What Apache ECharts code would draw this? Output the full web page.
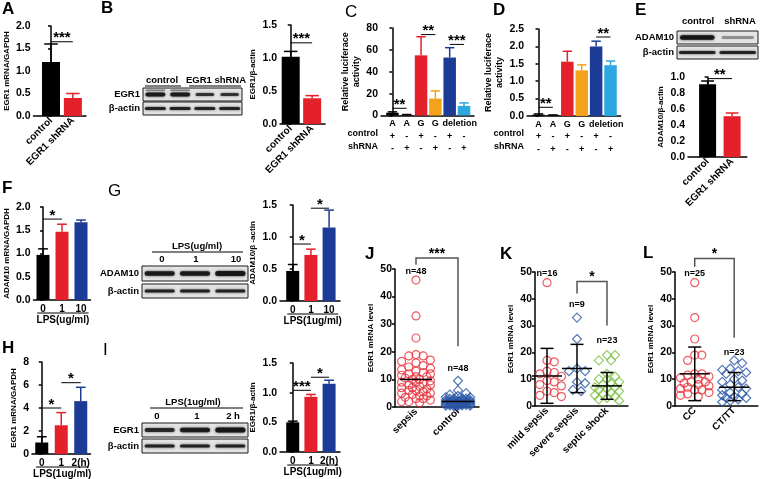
<!DOCTYPE html>
<html><head><meta charset="utf-8">
<script src="https://cdn.jsdelivr.net/npm/echarts@6/dist/echarts.min.js"></script>
<style>html,body{margin:0;padding:0;background:#fff}#c{width:760px;height:479px}</style>
</head><body><div id="c"></div>
<script>
// ---------------- DATA ----------------
const aCats = ['control', 'EGR1 shRNA'];
const aMean = [1.2, 0.4];
const aErr = [1.6, 0.5];
const aSig = [[0, 1, 1.65, '***']];

const bCats = ['control', 'EGR1 shRNA'];
const bMean = [1.02, 0.39];
const bErr = [1.1, 0.43];
const bSig = [[0, 1, 1.23, '***']];

const cdCats = ['A', 'A', 'G', 'G', '', ''];
const cdSpanLabel = 'deletion';
const cdSpanPos = 4.7;
const cdControl = ['+', '-', '+', '-', '+', '-'];
const cdShRNA = ['-', '+', '-', '+', '-', '+'];
const cMean = [2.5, 0.5, 55, 15.5, 53, 8.8];
const cErr = [3.3, 0.9, 72, 22.5, 62, 11.5];
const cSig = [[0, 1, 6.6, '**'], [2, 3, 74, '**'], [4, 5, 65, '***']];
const dMean = [0.04, 0.02, 1.56, 1.31, 2.0, 1.46];
const dErr = [0.06, 0.03, 1.86, 1.47, 2.15, 1.58];
const dSig = [[0, 1, 0.25, '**'], [4, 5, 2.27, '**']];

const eCats = ['control', 'EGR1 shRNA'];
const eMean = [0.91, 0.51];
const eErr = [0.95, 0.55];
const eSig = [[0, 1, 0.98, '**']];

const fCats = ['0', '1', '10'];
const fMean = [0.97, 1.47, 1.67];
const fErr = [1.1, 1.63, 1.72];
const fSig = [[0, 1, 1.74, '*']];

const gCats = ['0', '1', '10'];
const gMean = [0.47, 0.72, 1.15];
const gErr = [0.57, 0.81, 1.42];
const gSig = [[0, 1, 0.89, '*'], [1, 2, 1.45, '*']];

const hCats = ['0', '1', '2(h)'];
const hMean = [1.0, 2.5, 4.6];
const hErr = [1.5, 3.6, 5.8];
const hSig = [[0, 1, 4.0, '*'], [1, 2, 6.2, '*']];

const iCats = ['0', '1', '2(h)'];
const iMean = [0.5, 0.93, 1.15];
const iErr = [0.52, 0.97, 1.21];
const iSig = [[0, 1, 1.04, '***'], [1, 2, 1.26, '*']];

const jCats = ['sepsis', 'control'];
const jSepsis = [46, 33, 25, 19, 18.5, 18.5, 17, 16.5, 16, 15, 14.5, 14, 13.5, 13, 12.5, 12, 12, 11.5, 11, 11, 10.5, 10, 10, 9.5, 9, 9, 8.5, 8, 8, 7.5, 7, 7, 6.5, 6, 6, 5.5, 5, 5, 4.5, 4, 4, 3.5, 3, 3, 2.5, 2, 2, 1.5];
const jControl = [9.5, 6, 5, 4.5, 4, 3.5, 3.5, 3, 3, 3, 3, 2.5, 2.5, 2.5, 2.5, 2.5, 2, 2, 2, 2, 2, 2, 2, 1.5, 1.5, 1.5, 1.5, 1.5, 1.5, 1.5, 1.2, 1.2, 1.2, 1.2, 1, 1, 1, 1, 1, 0.8, 0.8, 0.8, 0.6, 0.6, 0.5, 0.5, 0.4, 0.3];
const jMeanVals = [10, 2];
const jN = ['n=48', 'n=48'];
const jNY = [49, 14];
const jBracket = [1, 2, 51.5, 54, 22, '***'];

const kCats = ['mild sepsis', 'severe sepsis', 'septic shock'];
const kMild = [46, 17, 16.5, 13, 12.5, 12, 11, 9.5, 9, 8, 7.5, 7, 5.5, 5, 4, 3.5];
const kSevere = [33, 25, 14, 13, 13, 9, 8.5, 6, 5.5];
const kShock = [19, 19, 17, 17, 12, 11, 10, 10, 9, 8.5, 8, 7, 7, 6.5, 6, 5.5, 5, 4.5, 4, 3.5, 3, 2.5, 2];
const kMeanVals = [11.2, 14, 7.5];
const kLow = [1, 5, 2.5];
const kHigh = [21.5, 23, 12.5];
const kN = ['n=16', 'n=9', 'n=23'];
const kNY = [49.5, 38, 24.5];
const kBracket = [2, 3, 42, 46.5, 30, '*'];

const lCats = ['CC', 'CT/TT'];
const lCC = [46, 33, 25, 19, 19, 17, 12, 12, 11.5, 11, 10.5, 10, 9, 9, 8.5, 8, 7.5, 7, 6.5, 6, 6, 5, 4.5, 4, 3.5];
const lCT = [17, 16, 14, 13.5, 13, 12.5, 12, 10, 9.5, 9, 8, 7, 6.5, 6, 5, 4.5, 4, 3.5, 3, 3, 2.5, 2, 1.5];
const lMeanVals = [12, 7];
const lLow = [2, 2];
const lHigh = [22, 12.5];
const lN = ['n=25', 'n=23'];
const lNY = [49.5, 20];
const lBracket = [1, 2, 52, 55, 25.5, '*'];

// ---------------- STYLE ----------------
const FONT = 'Liberation Sans';
const RED = '#e4202b', ORANGE = '#f4a21b', BLUE = '#1c3b96', LBLUE = '#2ca7df', GREEN = '#7cc143', DBLUE = '#2a56a6';
const barColors2 = ['#000', RED];
const barColors3 = ['#000', RED, BLUE];
const barColors6 = ['#000', '#000', RED, ORANGE, BLUE, LBLUE];

const grids = [], xAxes = [], yAxes = [], series = [], graphics = [];

function catFmt(cats) {
  return v => { const r = Math.round(v); return (Math.abs(v - r) < 1e-6 && r >= 0 && r < cats.length) ? cats[r] : ''; };
}
function addPanel(c) {
  const i = grids.length;
  grids.push({ left: c.left, top: c.top, width: c.width, height: c.height });
  xAxes.push({
    gridIndex: i, type: 'value', min: c.xmin, max: c.xmax, interval: 0.1,
    axisLine: { show: true, onZero: false, lineStyle: { color: '#000', width: 1.5 } },
    axisTick: { show: false }, splitLine: { show: false },
    axisLabel: { formatter: c.xfmt, rotate: c.xRotate || 0, margin: c.xMargin || 3, color: '#000',
      fontFamily: FONT, fontWeight: 'bold', fontSize: c.xFont || 10, lineHeight: c.xLineHeight || 12 }
  });
  yAxes.push({
    gridIndex: i, type: 'value', min: 0, max: c.ymax, interval: c.yint,
    axisLine: { show: true, lineStyle: { color: '#000', width: 1.5 } },
    axisTick: { show: true, length: 3, lineStyle: { color: '#000', width: 1.5 } },
    splitLine: { show: false },
    axisLabel: { formatter: c.yfmt, margin: 3, color: '#000', fontFamily: FONT, fontWeight: 'bold', fontSize: c.yFont || 10.5 },
    name: c.yName, nameLocation: 'middle', nameGap: c.yNameGap, nameRotate: 90,
    nameTextStyle: { fontFamily: FONT, fontWeight: 'bold', fontSize: c.yNameFont || 8, color: '#000', lineHeight: 11 }
  });
  return i;
}
function addBars(gi, vals, errs, colors, bw, capFrac) {
  series.push({ type: 'bar', xAxisIndex: gi, yAxisIndex: gi, barWidth: bw, silent: true,
    data: vals.map((v, k) => ({ value: [k, v], itemStyle: { color: colors[k] } })) });
  series.push({ type: 'custom', xAxisIndex: gi, yAxisIndex: gi, silent: true, clip: false, z: 3,
    data: vals.map((v, k) => [k, errs[k]]),
    renderItem: (p, api) => {
      const k = p.dataIndex;
      const a = api.coord([k, vals[k]]), b = api.coord([k, errs[k]]);
      const cw = bw * (capFrac || 0.75);
      const st = { stroke: colors[k], lineWidth: 1.5 };
      return { type: 'group', children: [
        { type: 'line', shape: { x1: a[0], y1: a[1], x2: b[0], y2: b[1] }, style: st },
        { type: 'line', shape: { x1: b[0] - cw / 2, y1: b[1], x2: b[0] + cw / 2, y2: b[1] }, style: st }
      ] };
    } });
}
function addSig(gi, items, fs) {
  series.push({ type: 'custom', xAxisIndex: gi, yAxisIndex: gi, silent: true, clip: false, z: 5,
    data: items.map(d => [d[0], d[2]]),
    renderItem: (p, api) => {
      const d = items[p.dataIndex];
      const a = api.coord([d[0], d[2]]), b = api.coord([d[1], d[2]]);
      return { type: 'group', children: [
        { type: 'line', shape: { x1: a[0], y1: a[1], x2: b[0], y2: b[1] }, style: { stroke: '#000', lineWidth: 1 } },
        { type: 'text', style: { text: d[3], x: (a[0] + b[0]) / 2, y: a[1] + 4, align: 'center', verticalAlign: 'bottom',
          font: 'bold ' + (fs || 15) + 'px ' + FONT, fill: '#000' } }
      ] };
    } });
}
function addGroupLabel(gi, x0, x1, text, dLine, dText) {
  series.push({ type: 'custom', xAxisIndex: gi, yAxisIndex: gi, silent: true, clip: false,
    data: [[x0, 0]],
    renderItem: (p, api) => {
      const a = api.coord([x0, 0]), b = api.coord([x1, 0]);
      return { type: 'group', children: [
        { type: 'line', shape: { x1: a[0], y1: a[1] + dLine, x2: b[0], y2: b[1] + dLine }, style: { stroke: '#000', lineWidth: 1 } },
        { type: 'text', style: { text, x: (a[0] + b[0]) / 2, y: a[1] + dText, align: 'center', verticalAlign: 'middle',
          font: 'bold 10px ' + FONT, fill: '#000' } }
      ] };
    } });
}
// deterministic beeswarm offsets (px)
function swarm(vals, pxY, d, maxOff) {
  const order = vals.map((v, i) => i).sort((a, b) => vals[b] - vals[a]);
  const placed = [], off = new Array(vals.length).fill(0);
  order.forEach(i => {
    const y = vals[i] * pxY;
    let best = 0, bestScore = -Infinity;
    for (let k = 0; k < 60; k++) {
      const cand = k === 0 ? 0 : ((k % 2) ? 1 : -1) * Math.ceil(k / 2) * d * 0.5;
      if (Math.abs(cand) > maxOff) break;
      let md = Infinity;
      placed.forEach(q => { const dd = Math.hypot(q.x - cand, q.y - y); if (dd < md) md = dd; });
      if (md >= d) { best = cand; bestScore = Infinity; break; }
      if (md > bestScore) { bestScore = md; best = cand; }
    }
    placed.push({ x: best, y }); off[i] = best;
  });
  return off;
}
function addSwarm(gi, vals, xc, symbol, color, size) {
  const g = grids[gi], xa = xAxes[gi], ya = yAxes[gi];
  const pxX = g.width / (xa.max - xa.min), pxY = g.height / ya.max;
  const off = swarm(vals, pxY, size * 0.9, 15);
  series.push({ type: 'scatter', xAxisIndex: gi, yAxisIndex: gi, silent: true, symbol, symbolSize: size,
    itemStyle: { color: 'rgba(0,0,0,0)', borderColor: color, borderWidth: 1.2 },
    data: vals.map((v, k) => [xc + off[k] / pxX, v]) });
}
function addMeanSD(gi, means, lows, highs, nText, nY, meanW) {
  series.push({ type: 'custom', xAxisIndex: gi, yAxisIndex: gi, silent: true, clip: false, z: 6,
    data: means.map((m, k) => [k + 1, m]),
    renderItem: (p, api) => {
      const k = p.dataIndex, x = k + 1;
      const m = api.coord([x, means[k]]);
      const st = { stroke: '#000', lineWidth: 1.5 };
      const ch = [{ type: 'line', shape: { x1: m[0] - meanW / 2, y1: m[1], x2: m[0] + meanW / 2, y2: m[1] }, style: st }];
      if (lows) {
        const lo = api.coord([x, lows[k]]), hi = api.coord([x, highs[k]]);
        ch.push({ type: 'line', shape: { x1: lo[0], y1: lo[1], x2: hi[0], y2: hi[1] }, style: st });
        ch.push({ type: 'line', shape: { x1: lo[0] - 6.5, y1: lo[1], x2: lo[0] + 6.5, y2: lo[1] }, style: st });
        ch.push({ type: 'line', shape: { x1: hi[0] - 6.5, y1: hi[1], x2: hi[0] + 6.5, y2: hi[1] }, style: st });
      }
      const t = api.coord([x, nY[k]]);
      ch.push({ type: 'text', style: { text: nText[k], x: t[0], y: t[1], align: 'center', verticalAlign: 'middle',
        font: 'bold 9px ' + FONT, fill: '#000' } });
      return { type: 'group', children: ch };
    } });
}
function addBracket(gi, b) {
  series.push({ type: 'custom', xAxisIndex: gi, yAxisIndex: gi, silent: true, clip: false, z: 6,
    data: [[b[0], b[3]]],
    renderItem: (p, api) => {
      const a0 = api.coord([b[0], b[2]]), a1 = api.coord([b[0], b[3]]), b1 = api.coord([b[1], b[3]]), b0 = api.coord([b[1], b[4]]);
      return { type: 'group', children: [
        { type: 'polyline', shape: { points: [a0, a1, b1, b0] }, style: { stroke: '#555', lineWidth: 1.5, fill: null } },
        { type: 'text', style: { text: b[5], x: (a1[0] + b1[0]) / 2, y: a1[1] + 3, align: 'center', verticalAlign: 'bottom',
          font: 'bold 14px ' + FONT, fill: '#000' } }
      ] };
    } });
}
const f1 = v => v.toFixed(1), f0 = v => String(Math.round(v));

// ---------------- PANELS ----------------
const A = addPanel({ left: 32, top: 26, width: 54, height: 90, xmin: -0.8, xmax: 1.6, ymax: 2, yint: 0.5, yfmt: f1,
  xfmt: catFmt(aCats), xRotate: 45, xFont: 10, yName: 'EGR1 mRNA/GAPDH', yNameGap: 12 });
addBars(A, aMean, aErr, barColors2, 18); addSig(A, aSig);

const B = addPanel({ left: 280, top: 25, width: 45, height: 99, xmin: -0.5, xmax: 1.6, ymax: 1.5, yint: 0.5, yfmt: f1,
  xfmt: catFmt(bCats), xRotate: 45, xFont: 10, yName: 'EGR1/β-actin', yNameGap: 14 });
addBars(B, bMean, bErr, barColors2, 18); addSig(B, bSig);

function cdFmt(v) {
  if (Math.abs(v - cdSpanPos) < 1e-6) return cdSpanLabel + '\n\n';
  const r = Math.round(v);
  if (Math.abs(v - r) > 1e-6) return '';
  if (r >= 0 && r < 6) return cdCats[r] + '\n' + cdControl[r] + '\n' + cdShRNA[r];
  return '';
}
const C = addPanel({ left: 381, top: 28, width: 93, height: 87.5, xmin: -0.8, xmax: 5.7, ymax: 80, yint: 20, yfmt: f0,
  xfmt: cdFmt, xFont: 9, xLineHeight: 12.5, xMargin: 2, yName: 'Relative luciferace\nactivity', yNameGap: 12, yNameFont: 9 });
addBars(C, cMean, cErr, barColors6, 12.5); addSig(C, cSig);

const D = addPanel({ left: 527, top: 29, width: 93.6, height: 87, xmin: -0.8, xmax: 5.7, ymax: 2.5, yint: 0.5, yfmt: f1,
  xfmt: cdFmt, xFont: 9, xLineHeight: 12.5, xMargin: 2, yName: 'Relative luciferace\nactivity', yNameGap: 13, yNameFont: 9 });
addBars(D, dMean, dErr, barColors6, 12.5); addSig(D, dSig);

const E = addPanel({ left: 688, top: 77, width: 58.8, height: 80, xmin: -0.8, xmax: 1.6, ymax: 1.0, yint: 0.2, yfmt: f1,
  xfmt: catFmt(eCats), xRotate: 45, xFont: 10, yName: 'ADAM10/β-actin', yNameGap: 12 });
addBars(E, eMean, eErr, barColors2, 17); addSig(E, eSig);

const F = addPanel({ left: 32, top: 207, width: 58.5, height: 93, xmin: -0.5, xmax: 2.5, ymax: 2, yint: 0.5, yfmt: f1,
  xfmt: catFmt(fCats), xFont: 10, yName: 'ADAM10 mRNA/GAPDH', yNameGap: 12 });
addBars(F, fMean, fErr, barColors3, 13); addSig(F, fSig); addGroupLabel(F, -0.3, 2.4, 'LPS(ug/ml)', 13, 20);

const G = addPanel({ left: 280, top: 205, width: 60, height: 96, xmin: -0.7, xmax: 2.6, ymax: 1.5, yint: 0.5, yfmt: f1,
  xfmt: catFmt(gCats), xFont: 10, yName: 'ADAM10/β -actin', yNameGap: 14 });
addBars(G, gMean, gErr, barColors3, 13); addSig(G, gSig); addGroupLabel(G, -0.3, 2.5, 'LPS(1ug/ml)', 13, 20);

const H = addPanel({ left: 32, top: 362, width: 58.5, height: 92, xmin: -0.5, xmax: 2.5, ymax: 8, yint: 2, yfmt: f0,
  xfmt: catFmt(hCats), xFont: 10, yName: 'EGR1 mRNA/GAPDH', yNameGap: 12 });
addBars(H, hMean, hErr, barColors3, 13); addSig(H, hSig); addGroupLabel(H, -0.3, 2.4, 'LPS(1ug/ml)', 13, 20);

const I = addPanel({ left: 280, top: 363, width: 60, height: 89, xmin: -0.7, xmax: 2.6, ymax: 1.5, yint: 0.5, yfmt: f1,
  xfmt: catFmt(iCats), xFont: 10, yName: 'EGR1/β-actin', yNameGap: 14 });
addBars(I, iMean, iErr, barColors3, 13); addSig(I, iSig); addGroupLabel(I, -0.3, 2.5, 'LPS(1ug/ml)', 13, 20);

const J = addPanel({ left: 395, top: 269, width: 84, height: 138, xmin: 0.5, xmax: 2.5, ymax: 50, yint: 10, yfmt: f0,
  xfmt: v => catFmt(jCats)(v - 1), xRotate: 45, xFont: 10, yName: 'EGR1 mRNA level', yNameGap: 13 });
addSwarm(J, jSepsis, 1, 'circle', '#e8333d', 8);
addSwarm(J, jControl, 2, 'diamond', DBLUE, 9);
addMeanSD(J, jMeanVals, null, null, jN, jNY, 32);
addBracket(J, jBracket);

const K = addPanel({ left: 535, top: 272, width: 93, height: 134, xmin: 0.6, xmax: 3.7, ymax: 50, yint: 10, yfmt: f0,
  xfmt: v => catFmt(kCats)(v - 1), xRotate: 45, xFont: 10, yName: 'EGR1 mRNA level', yNameGap: 13 });
addSwarm(K, kMild, 1, 'circle', '#e8333d', 8);
addSwarm(K, kSevere, 2, 'diamond', DBLUE, 9);
addSwarm(K, kShock, 3, 'diamond', GREEN, 9);
addMeanSD(K, kMeanVals, kLow, kHigh, kN, kNY, 30);
addBracket(K, kBracket);

const L = addPanel({ left: 675, top: 272, width: 84, height: 134, xmin: 0.5, xmax: 2.6, ymax: 50, yint: 10, yfmt: f0,
  xfmt: v => catFmt(lCats)(v - 1), xRotate: 45, xFont: 10, yName: 'EGR1 mRNA level', yNameGap: 13 });
addSwarm(L, lCC, 1, 'circle', '#e8333d', 8);
addSwarm(L, lCT, 2, 'diamond', DBLUE, 9);
addMeanSD(L, lMeanVals, lLow, lHigh, lN, lNY, 30);
addBracket(L, lBracket);

// ---------------- GRAPHICS (letters, blots, row labels) ----------------
function txt(text, x, y, opt) {
  opt = opt || {};
  graphics.push({ type: 'text', x, y, z: 20, silent: true,
    style: { text, x: 0, y: 0, align: opt.align || 'center', verticalAlign: 'middle',
      font: (opt.weight || 'bold') + ' ' + (opt.size || 10) + 'px ' + FONT, fill: '#000' } });
}
function hline(x1, x2, y) {
  graphics.push({ type: 'line', silent: true, z: 20, shape: { x1, y1: y, x2, y2: y }, style: { stroke: '#000', lineWidth: 1 } });
}
function blot(x, y, w, h, bands) {
  graphics.push({ type: 'rect', silent: true, z: 10, shape: { x, y, width: w, height: h },
    style: { fill: '#e4e4e4', stroke: '#1a1a1a', lineWidth: 1 } });
  const n = bands.length;
  bands.forEach((b, k) => {
    const cx = x + w * (k + 0.5) / n, bw = (w / n) * b.w;
    const cy = y + h / 2 + (b.dy || 0);
    graphics.push({ type: 'rect', silent: true, z: 11,
      shape: { x: cx - bw / 2, y: cy - b.h / 2, width: bw, height: b.h, r: b.h / 2 },
      style: { fill: 'rgba(20,20,20,' + b.a + ')', shadowBlur: 2.5, shadowColor: 'rgba(20,20,20,' + b.a + ')' } });
    if (b.upper) graphics.push({ type: 'rect', silent: true, z: 11,
      shape: { x: cx - bw / 2, y: cy - b.h / 2 - 3, width: bw, height: 1.5, r: 0.7 },
      style: { fill: 'rgba(40,40,40,0.45)', shadowBlur: 1.5, shadowColor: 'rgba(40,40,40,0.4)' } });
  });
}
// panel letters
[['A', 2, 9, 'bold'], ['B', 101, 8, 'bold'], ['C', 345, 12, 'normal'], ['D', 493, 10, 'bold'], ['E', 635, 10, 'bold'],
 ['F', 2, 188, 'bold'], ['G', 108, 191, 'normal'], ['H', 2, 348, 'bold'], ['I', 103, 350, 'normal'],
 ['J', 365, 254, 'bold'], ['K', 500, 254, 'bold'], ['L', 643, 253, 'bold']].forEach(l =>
  txt(l[0], l[1], l[2], { align: 'left', size: 17, weight: l[3] }));

// C / D row labels
txt('control', 378, 134, { align: 'right', size: 9 }); txt('shRNA', 378, 146.5, { align: 'right', size: 9 });
txt('control', 524, 134, { align: 'right', size: 9 }); txt('shRNA', 524, 146.5, { align: 'right', size: 9 });

// B blot
txt('control', 162, 80, { size: 9.5 }); txt('EGR1 shRNA', 216, 80, { size: 9.5 });
hline(145, 181, 86); hline(189, 241, 86);
txt('EGR1', 140, 94.5, { align: 'right', size: 9.5 }); txt('β-actin', 140, 108.5, { align: 'right', size: 9.5 });
blot(143, 88, 99, 13, [{ w: 0.8, h: 4, a: 0.9, upper: true }, { w: 0.8, h: 4, a: 0.9, upper: true }, { w: 0.75, h: 3, a: 0.75 }, { w: 0.75, h: 3, a: 0.75 }]);
blot(143, 102, 99, 13, [{ w: 0.85, h: 3.2, a: 0.85 }, { w: 0.85, h: 3.2, a: 0.85 }, { w: 0.85, h: 3.2, a: 0.85 }, { w: 0.85, h: 3.2, a: 0.85 }]);

// E blot
txt('control', 698, 21, { size: 9.5 }); txt('shRNA', 740, 21, { size: 9.5 });
txt('ADAM10', 674, 37.5, { align: 'right', size: 9.5 }); txt('β-actin', 674, 52.5, { align: 'right', size: 9.5 });
blot(677, 31, 81, 13, [{ w: 0.85, h: 4.5, a: 0.95 }, { w: 0.8, h: 3, a: 0.35 }]);
blot(677, 46, 81, 13, [{ w: 0.9, h: 3, a: 0.85 }, { w: 0.9, h: 3, a: 0.85 }]);

// G blot
txt('LPS(ug/ml)', 197, 246, { size: 9.5 }); hline(152, 243, 252);
txt('0', 162, 259, { size: 9.5 }); txt('1', 196, 259, { size: 9.5 }); txt('10', 236, 259, { size: 9.5 });
txt('ADAM10', 139, 273, { align: 'right', size: 9.5 }); txt('β-actin', 139, 291, { align: 'right', size: 9.5 });
blot(142, 266, 106, 15, [{ w: 0.85, h: 4.5, a: 0.9 }, { w: 0.85, h: 4.5, a: 0.9 }, { w: 0.85, h: 5, a: 0.95 }]);
blot(142, 284, 106, 14, [{ w: 0.85, h: 3, a: 0.85 }, { w: 0.85, h: 3, a: 0.85 }, { w: 0.85, h: 3, a: 0.85 }]);

// I blot
txt('LPS(1ug/ml)', 193, 402, { size: 9.5 }); hline(150, 243, 408);
txt('0', 157, 416, { size: 9.5 }); txt('1', 197, 416, { size: 9.5 }); txt('2 h', 233, 416, { size: 9.5 });
txt('EGR1', 139, 430, { align: 'right', size: 9.5 }); txt('β-actin', 139, 446, { align: 'right', size: 9.5 });
blot(142, 423, 106, 14, [{ w: 0.85, h: 4, a: 0.8 }, { w: 0.85, h: 4.5, a: 0.9 }, { w: 0.85, h: 5, a: 0.95 }]);
blot(142, 439, 106, 14, [{ w: 0.85, h: 3, a: 0.85 }, { w: 0.85, h: 3, a: 0.85 }, { w: 0.85, h: 3, a: 0.85 }]);

const chart = echarts.init(document.getElementById('c'), null, { renderer: 'canvas' });
chart.setOption({
  animation: false, backgroundColor: '#fff',
  grid: grids, xAxis: xAxes, yAxis: yAxes, series, graphic: graphics
});
</script></body></html>
